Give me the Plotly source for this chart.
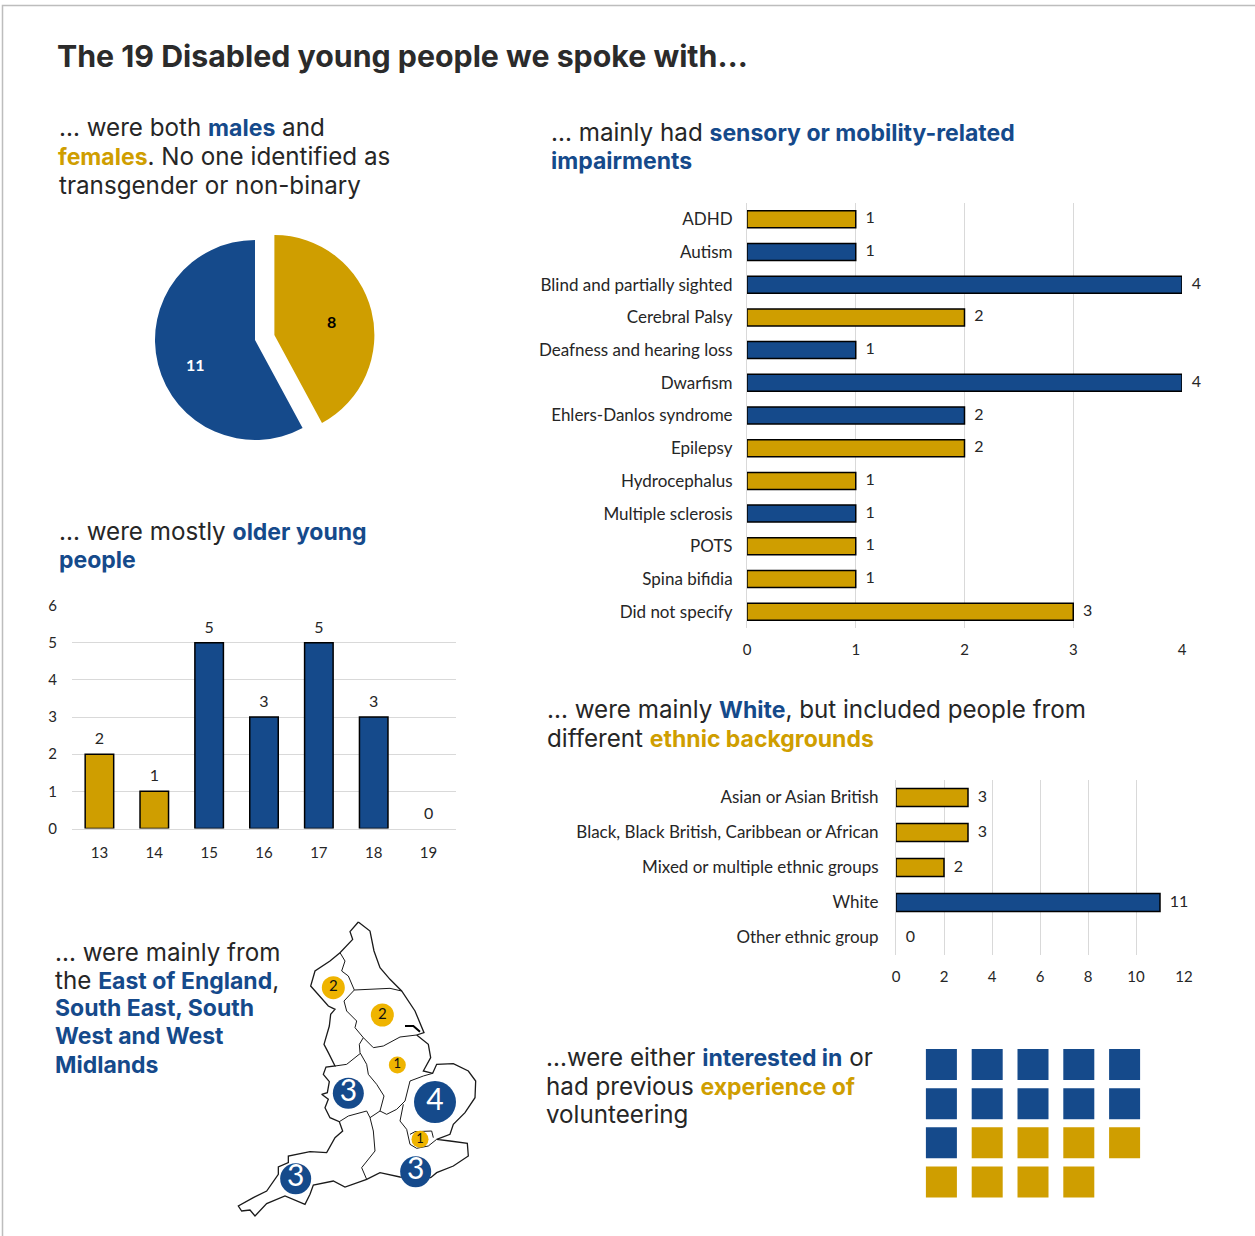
import plotly.graph_objects as go

W, H = 1255, 1236
BLUE = "#154a8b"
GOLD = "#cf9e00"
MAP_GOLD = "#efb400"
GRID = "#d9d9d9"
INK = "#262626"
HEAD_FONT = "Inter"
LABEL_FONT = "Lato"

# Gender split
gender_labels = ["Female", "Male"]
gender_values = [8, 11]

# Age of participants
ages = ["13", "14", "15", "16", "17", "18", "19"]
age_counts = [2, 1, 5, 3, 5, 3, 0]
age_groups = ["g", "g", "b", "b", "b", "b", "b"]

# Impairments
impairments = ["ADHD", "Autism", "Blind and partially sighted", "Cerebral Palsy",
               "Deafness and hearing loss", "Dwarfism", "Ehlers-Danlos syndrome",
               "Epilepsy", "Hydrocephalus", "Multiple sclerosis", "POTS",
               "Spina bifidia", "Did not specify"]
impairment_counts = [1, 1, 4, 2, 1, 4, 2, 2, 1, 1, 1, 1, 3]
impairment_groups = ["g", "b", "b", "g", "b", "b", "b", "g", "g", "b", "g", "g", "g"]

# Ethnic background
ethnicities = ["Asian or Asian British", "Black, Black British, Caribbean or African",
               "Mixed or multiple ethnic groups", "White", "Other ethnic group"]
ethnicity_counts = [3, 3, 2, 11, 0]
ethnicity_groups = ["g", "g", "g", "b", "g"]

# Volunteering
interested_count = 11
experienced_count = 8
waffle_columns = 5

# Regional counts with their marker locations on the outline map
region_x = [340, 487, 532, 385, 645, 600, 227, 587]
region_y = [230, 312, 462, 547, 573, 685, 803, 782]
region_counts = [2, 2, 1, 3, 4, 1, 3, 3]
region_size = [23, 23, 17, 31, 42, 17, 31, 31]

# England outline and the regional borders
coast_x = [415, 390, 398, 360, 330, 285, 272, 300, 325, 345, 332, 328, 312, 325, 345, 318, 310, 328, 322, 305, 325,
           315, 330, 358, 368, 345, 320, 270, 205, 205, 175, 175, 140, 100, 55, 65, 90, 105, 140, 195, 255, 270, 280,
           340, 375, 440, 480, 540, 600, 632, 650, 700, 745, 742, 690, 650, 690, 700, 735, 765, 767, 745, 700, 650,
           638, 610, 632, 625, 590, 612, 585, 545, 510, 480, 462, 450, 415]
coast_y = [33, 62, 85, 125, 150, 180, 225, 255, 285, 295, 310, 345, 400, 425, 465, 468, 490, 512, 545, 550, 565,
           590, 620, 632, 660, 680, 725, 722, 735, 755, 768, 790, 840, 860, 885, 900, 897, 915, 878, 855, 880, 850, 822,
           810, 828, 805, 785, 798, 800, 800, 785, 765, 735, 697, 690, 685, 670, 640, 605, 560, 510, 480, 458, 460,
           487, 480, 440, 400, 372, 365, 300, 240, 205, 170, 120, 60, 33]
border_x = [[360, 375, 365, 385, 403], [403, 465, 510, 545], [403, 372, 380, 410, 405, 430],
            [430, 460, 490, 540, 590], [430, 418, 420, 440, 445, 470, 492, 480], [345, 380, 420],
            [480, 500, 530, 555, 570, 610, 638], [358, 385, 440, 450, 480], [450, 460, 465, 425, 440],
            [550, 540, 560, 570, 590, 625, 650], [570, 585, 635, 640]]
border_y = [[125, 150, 180, 195, 237], [237, 235, 232, 240], [237, 270, 300, 330, 350, 380],
            [380, 410, 405, 378, 372], [380, 400, 425, 460, 490, 520, 555, 600], [465, 460, 428],
            [600, 610, 595, 570, 510, 495, 487], [632, 615, 600, 620, 600], [620, 660, 720, 770, 805],
            [580, 630, 655, 700, 712, 705, 685], [670, 662, 660, 680]]
humber_x = [555, 580, 600]
humber_y = [345, 345, 362]


def colours(groups):
    return [GOLD if g == "g" else BLUE for g in groups]


def px_domain_x(a, b):
    return [a / W, b / W]


def px_domain_y(top, bottom):
    return [1 - bottom / H, 1 - top / H]


def hbar_axis_style(cats, left, right, top, bottom, xmax, dtick, standoff):
    xa = dict(domain=px_domain_x(left, right), range=[0, xmax], dtick=dtick, showgrid=True, gridcolor=GRID,
              gridwidth=1, zeroline=False, showline=False, ticks="", ticklabelstandoff=11,
              tickfont=dict(family=LABEL_FONT, size=15, color=INK))
    ya = dict(domain=px_domain_y(top, bottom), type="category", categoryorder="array", categoryarray=cats,
              range=[len(cats) - 0.5, -0.5], showgrid=False, zeroline=False, showline=True, linecolor=GRID,
              linewidth=1, ticks="", ticklabelstandoff=standoff, tickfont=dict(family=LABEL_FONT, size=17, color=INK))
    return xa, ya


fig = go.Figure()

fig.add_trace(go.Pie(labels=gender_labels, values=gender_values, sort=False, direction="clockwise", rotation=0,
                     pull=[0.2, 0], marker=dict(colors=[GOLD, BLUE], line=dict(width=0)), textinfo="none",
                     domain=dict(x=px_domain_x(135, 375), y=px_domain_y(220, 460)), showlegend=False))


def add_bars(x, y, groups, orientation, xaxis, yaxis):
    values = x if orientation == "h" else y
    fig.add_trace(go.Bar(x=x, y=y, orientation=orientation, width=0.52, xaxis=xaxis, yaxis=yaxis,
                         marker=dict(color=colours(groups),
                                     line=dict(color="#000000", width=[1.5 if v else 0 for v in values])),
                         showlegend=False))
    # Value labels sit just past the bar ends, spaced by an invisible marker
    fig.add_trace(go.Scatter(x=x, y=y, mode="markers+text", xaxis=xaxis, yaxis=yaxis, text=values,
                             textposition="middle right" if orientation == "h" else "top center",
                             marker=dict(size=14 if orientation == "h" else 8, opacity=0), cliponaxis=False,
                             textfont=dict(family=LABEL_FONT, size=16, color=INK), showlegend=False))


add_bars(impairment_counts, impairments, impairment_groups, "h", "x", "y")
add_bars(ages, age_counts, age_groups, "v", "x2", "y2")
add_bars(ethnicity_counts, ethnicities, ethnicity_groups, "h", "x3", "y3")

# Waffle of 19 squares, filled row by row
waffle_total = interested_count + experienced_count
waffle_cols = [i % waffle_columns for i in range(waffle_total)]
waffle_rows = [i // waffle_columns for i in range(waffle_total)]
waffle_colours = [BLUE] * interested_count + [GOLD] * experienced_count
fig.add_trace(go.Scatter(x=waffle_cols, y=waffle_rows, mode="markers", xaxis="x4", yaxis="y4", showlegend=False,
                         marker=dict(symbol="square", size=31, color=waffle_colours, line=dict(width=0))))

# Map outline, borders and regional counts
fig.add_trace(go.Scatter(x=coast_x, y=coast_y, mode="lines", xaxis="x5", yaxis="y5", showlegend=False,
                         line=dict(color="#1a1a1a", width=1.3)))
for bx, by in zip(border_x, border_y):
    fig.add_trace(go.Scatter(x=bx, y=by, mode="lines", xaxis="x5", yaxis="y5", showlegend=False,
                             line=dict(color="#1a1a1a", width=1)))
fig.add_trace(go.Scatter(x=humber_x, y=humber_y, mode="lines", xaxis="x5", yaxis="y5", showlegend=False,
                         line=dict(color="#000000", width=2)))
fig.add_trace(go.Scatter(x=region_x, y=region_y, mode="markers+text", xaxis="x5", yaxis="y5", showlegend=False,
                         text=region_counts, textposition="middle center",
                         marker=dict(size=region_size, opacity=1,
                                     color=[BLUE if c >= 3 else MAP_GOLD for c in region_counts],
                                     line=dict(width=0)),
                         textfont=dict(family=LABEL_FONT,
                                       size=[30 if c >= 3 else (15 if c == 2 else 13) for c in region_counts],
                                       color=["#ffffff" if c >= 3 else "#111111" for c in region_counts])))

# Page frame on a full-page axis pair, which also carries the headings
fig.add_trace(go.Scatter(x=[2.5, 2.5, W], y=[H, 5.5, 5.5], mode="lines", xaxis="x6", yaxis="y6", showlegend=False,
                         line=dict(color="#bdbdbd", width=1.5), hoverinfo="skip"))

imp_x, imp_y = hbar_axis_style(impairments, 747, 1182, 203, 628, 4, 1, 10)
eth_x, eth_y = hbar_axis_style(ethnicities, 896, 1184, 780, 955, 12, 2, 13)
hidden = dict(visible=False, showgrid=False, zeroline=False)


def blue(t):
    return f'<span style="color:{BLUE};font-size:23px"><b>{t}</b></span>'


def gold(t):
    return f'<span style="color:{GOLD};font-size:23px"><b>{t}</b></span>'


HEAD_SIZE = 24.2
text_lines = [
    (54.5, 56, "<b>The 19 Disabled young people we spoke with…</b>", 30.3, "#2b2b2b"),
    (56.5, 127, f"... were both {blue('males')} and", HEAD_SIZE, INK),
    (55.5, 156, f"{gold('females')}. No one identified as", HEAD_SIZE, INK),
    (56.5, 185, "transgender or non-binary", HEAD_SIZE, INK),
    (56.5, 531, f"... were mostly {blue('older young')}", HEAD_SIZE, INK),
    (56.5, 560, blue("people"), HEAD_SIZE, INK),
    (52.5, 952, "... were mainly from", HEAD_SIZE, INK),
    (52.5, 980, f"the {blue('East of England')},", HEAD_SIZE, INK),
    (52.5, 1008, blue("South East, South"), HEAD_SIZE, INK),
    (52.5, 1036, blue("West and West"), HEAD_SIZE, INK),
    (52.5, 1065, blue("Midlands"), HEAD_SIZE, INK),
    (548.5, 132, f"... mainly had {blue('sensory or mobility-related')}", HEAD_SIZE, INK),
    (548.5, 161, blue("impairments"), HEAD_SIZE, INK),
    (544.5, 709, f"... were mainly {blue('White')}, but included people from", HEAD_SIZE, INK),
    (544.5, 738, f"different {gold('ethnic backgrounds')}", HEAD_SIZE, INK),
    (543.5, 1057, f"...were either {blue('interested in')} or", HEAD_SIZE, INK),
    (543.5, 1086, f"had previous {gold('experience of')}", HEAD_SIZE, INK),
    (543.5, 1114, "volunteering", HEAD_SIZE, INK),
]
annotations = [dict(x=x, y=y, xref="x6", yref="y6", xanchor="left", yanchor="middle",
                    text=t, showarrow=False, align="left", font=dict(family=HEAD_FONT, size=s, color=c))
               for x, y, t, s, c in text_lines]
# Slice values placed inside the pie
for value, x, y, c in [(gender_values[0], 331, 321, "#000000"), (gender_values[1], 195, 364, "#ffffff")]:
    annotations.append(dict(x=x, y=y, xref="x6", yref="y6", text=f"<b>{value}</b>", showarrow=False,
                            font=dict(family=LABEL_FONT, size=16, color=c)))

fig.update_layout(
    width=W, height=H, margin=dict(l=0, r=0, t=0, b=0, autoexpand=False), paper_bgcolor="#ffffff",
    plot_bgcolor="rgba(0,0,0,0)", autosize=False, showlegend=False, annotations=annotations,
    xaxis=imp_x, yaxis=imp_y,
    xaxis2=dict(domain=px_domain_x(72, 456), type="category", range=[-0.5, 6.5], anchor="y2", showgrid=False,
                zeroline=False, showline=True, linecolor=GRID, ticks="", ticklabelstandoff=10,
                tickfont=dict(family=LABEL_FONT, size=15, color=INK)),
    yaxis2=dict(domain=px_domain_y(605.5, 828.5), range=[0, 6], dtick=1, anchor="x2", showgrid=True, gridcolor=GRID,
                zeroline=False, ticks="", ticklabelstandoff=14,
                tickfont=dict(family=LABEL_FONT, size=15, color=INK)),
    xaxis3=dict(eth_x, anchor="y3"), yaxis3=dict(eth_y, anchor="x3"),
    xaxis4=dict(hidden, domain=px_domain_x(918.5, 1147.5), range=[-0.5, 4.5], anchor="y4"),
    yaxis4=dict(hidden, domain=px_domain_y(1045, 1201.5), range=[3.5, -0.5], anchor="x4"),
    xaxis5=dict(hidden, domain=px_domain_x(220, 490), range=[0, 810], anchor="y5"),
    yaxis5=dict(hidden, domain=px_domain_y(911, 1231), range=[960, 0], anchor="x5"),
    xaxis6=dict(hidden, domain=[0, 1], range=[0, W], anchor="y6"),
    yaxis6=dict(hidden, domain=[0, 1], range=[H, 0], anchor="x6"),
)

fig.write_html("out.html")
